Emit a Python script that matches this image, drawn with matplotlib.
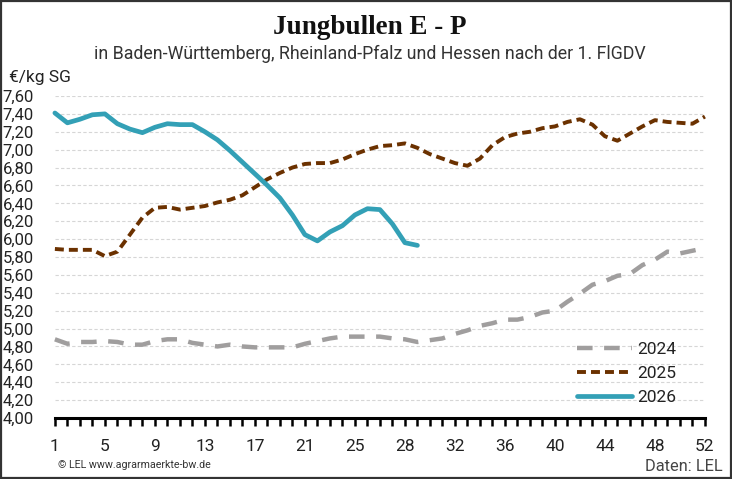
"""Jungbullen E - P: weekly prices 2024-2026, LEL style line chart."""
import matplotlib
matplotlib.use("Agg")
import matplotlib.pyplot as plt
from matplotlib.patches import Rectangle

# weekly prices (EUR/kg SG), one value per category slot on the x axis
p2024 = [4.88, 4.83, 4.85, 4.85, 4.86, 4.85, 4.82, 4.82, 4.86, 4.88,
         4.88, 4.84, 4.82, 4.80, 4.82, 4.80, 4.79, 4.79, 4.79, 4.79,
         4.83, 4.86, 4.89, 4.91, 4.91, 4.91, 4.91, 4.89, 4.88, 4.85,
         4.87, 4.89, 4.94, 4.98, 5.03, 5.06, 5.10, 5.10, 5.13, 5.18,
         5.20, 5.30, 5.39, 5.49, 5.53, 5.59, 5.61, 5.71, 5.77, 5.86,
         5.84, 5.87, 5.90]
p2025 = [5.89, 5.88, 5.88, 5.88, 5.81, 5.86, 6.05, 6.24, 6.35, 6.36,
         6.33, 6.35, 6.37, 6.41, 6.44, 6.49, 6.58, 6.67, 6.74, 6.80,
         6.84, 6.85, 6.85, 6.89, 6.95, 7.00, 7.04, 7.05, 7.07, 7.02,
         6.95, 6.90, 6.85, 6.82, 6.90, 7.05, 7.14, 7.18, 7.20, 7.24,
         7.26, 7.31, 7.34, 7.28, 7.15, 7.10, 7.18, 7.26, 7.33, 7.31,
         7.30, 7.29, 7.37]
p2026 = [7.41, 7.30, 7.34, 7.39, 7.40, 7.29, 7.23, 7.19, 7.25, 7.29,
         7.28, 7.28, 7.20, 7.11, 6.99, 6.86, 6.73, 6.60, 6.46, 6.27,
         6.05, 5.98, 6.08, 6.15, 6.27, 6.34, 6.33, 6.17, 5.96, 5.93]
week_labels = ["1", "5", "9", "13", "17", "21", "25", "28",
               "32", "36", "40", "44", "48", "52"]
n_slots = 53

fig = plt.figure(figsize=(7.32, 4.79), dpi=100)
fig.patches.append(Rectangle((0.001, 0.002), 0.997, 0.996, transform=fig.transFigure,
                             fill=False, edgecolor="#333333", linewidth=1.6))
ax = fig.add_axes([0.075, 0.1273, 0.888, 0.6723])

ax.plot(range(len(p2024)), p2024, color="#a09e9e", linewidth=3.2,
        dashes=(3.5, 2.6), label="2024", clip_on=False)
ax.plot(range(len(p2025)), p2025, color="#6b3100", linewidth=2.8,
        dashes=(2.3, 1.3), label="2025", clip_on=False)
ax.plot(range(len(p2026)), p2026, color="#33a0b6", linewidth=3.4,
        solid_capstyle="round", label="2026", clip_on=False)

ax.set_xlim(0, n_slots - 1)
ax.set_ylim(4.0, 7.6)
yt = [4.0 + 0.2 * i for i in range(19)]
ax.set_yticks(yt)
ax.set_yticklabels([f"{v:.2f}".replace(".", ",") for v in yt])
ax.set_xticks(range(n_slots))
labels = [""] * n_slots
for k, lab in enumerate(week_labels):
    labels[4 * k] = lab
ax.set_xticklabels(labels)

for s in ["top", "right", "left"]:
    ax.spines[s].set_visible(False)
ax.spines["bottom"].set_linewidth(2.2)
ax.spines["bottom"].set_color("black")
ax.tick_params(axis="x", direction="out", length=6, width=1.8, color="black",
               pad=9, labelsize=12.5, labelcolor="#222222")
ax.tick_params(axis="y", length=0, pad=15, labelsize=12, labelcolor="#222222")
for lab in ax.get_yticklabels() + ax.get_xticklabels():
    lab.set_fontfamily("Roboto")
ax.yaxis.grid(True, color="#d6d6d6", linewidth=0.8, linestyle=(0, (3, 2)))
ax.set_axisbelow(True)

leg = ax.legend(loc="lower left", bbox_to_anchor=(0.803, 0.04), frameon=False,
                borderaxespad=0, borderpad=0,
                handlelength=3.2, handletextpad=0.25, labelspacing=0.52,
                prop={"family": "Roboto", "size": 12.5})
for t in leg.get_texts():
    t.set_color("#222222")

fig.text(0.505, 0.942, "Jungbullen E - P", ha="center", va="center",
         fontsize=19.5, fontweight="bold", family="Liberation Serif", color="#111111")
fig.text(0.505, 0.887, "in Baden-Württemberg, Rheinland-Pfalz und Hessen nach der 1. FlGDV",
         ha="center", va="center", fontsize=12.8, family="Roboto", color="#333333")
fig.text(0.012, 0.838, "€/kg SG", ha="left", va="center", fontsize=12.5,
         family="Roboto", color="#222222")
fig.text(0.079, 0.029, "© LEL www.agrarmaerkte-bw.de", ha="left", va="center",
         fontsize=7.7, family="Roboto", color="#333333")
fig.text(0.987, 0.027, "Daten: LEL", ha="right", va="center", fontsize=11.8,
         family="Roboto", color="#444444")

fig.savefig("out.png", dpi=100)
